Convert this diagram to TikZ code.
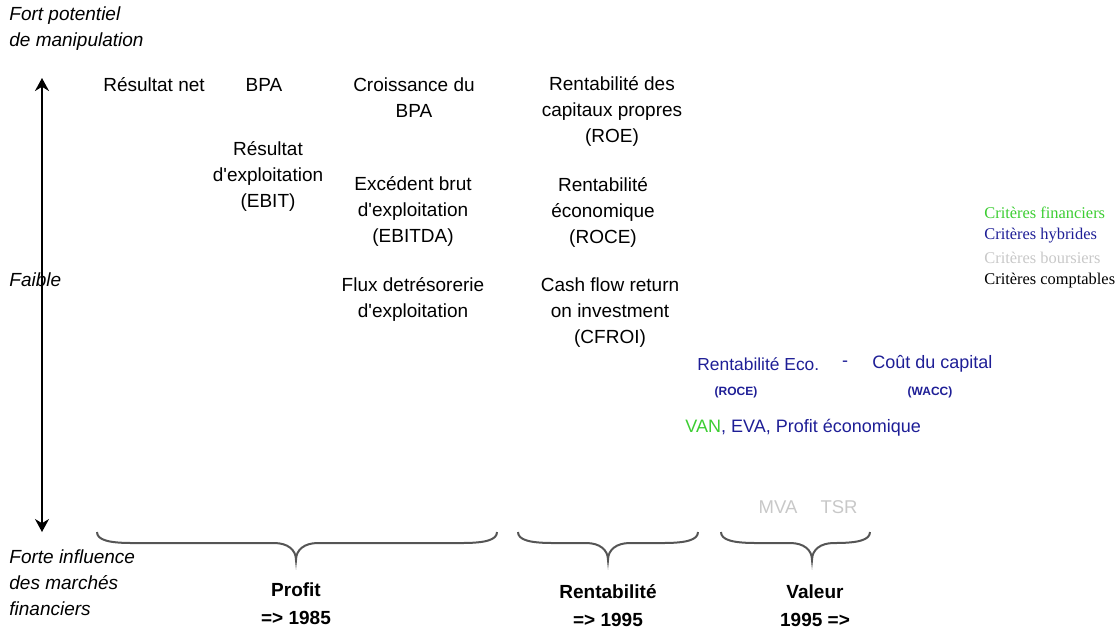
\documentclass[tikz,border=0pt]{standalone}
\usepackage{fontspec}
\setmainfont{Liberation Sans}
\newfontfamily\legendefont{Liberation Serif}
\usetikzlibrary{arrows.meta}

\definecolor{vert}{RGB}{60,205,50}
\definecolor{bleu}{RGB}{30,30,150}
\definecolor{gris}{RGB}{200,200,200}
\definecolor{trait}{RGB}{85,85,85}

% accolade: gauche, pointe, droite
\newcommand{\accolade}[3]{%
  \draw[trait, line width=1pt]
  (#1,532) .. controls (#1,540) and (#1+12,543) .. (#1+35,543)
  -- (#2-22,543) .. controls (#2-8,543) and (#2,550) .. (#2,560)
  .. controls (#2,550) and (#2+8,543) .. (#2+22,543)
  -- (#3-35,543) .. controls (#3-12,543) and (#3,540) .. (#3,532);}

\begin{document}
\begin{tikzpicture}[x=0.5pt, y=-0.5pt, >={Stealth[length=6.5pt,width=7pt]},
    font=\fontsize{9.5pt}{13pt}\selectfont,
    every node/.style={inner sep=0pt, align=center},
    axe/.style={anchor=west, align=left, font=\fontsize{9.5pt}{13pt}\selectfont\itshape},
    periode/.style={font=\fontsize{9.5pt}{14pt}\selectfont\bfseries},
    hybride/.style={text=bleu, font=\fontsize{9pt}{11pt}\selectfont},
    sigle/.style={text=bleu, font=\fontsize{6pt}{8pt}\selectfont\bfseries},
    boursier/.style={text=gris, font=\fontsize{9.25pt}{11pt}\selectfont},
    legende/.style={anchor=west, font=\fontsize{8.2pt}{10pt}\selectfont\legendefont}]
    \useasboundingbox (0,0) rectangle (1118,634);

    % Axe vertical
    \coordinate (haut) at (42,78);
    \coordinate (bas) at (42,532);
    \draw[line width=1pt,<->] (haut) -- (bas);
    \node[axe] (fort) at (9,29) {Fort potentiel\\de manipulation};
    \node[axe] (faible) at (9,280) {Faible};
    \node[axe] (influence) at (9,583) {Forte influence\\des marchés\\financiers};

    % Criteres comptables
    \node (rnet) at (154,85) {Résultat net};
    \node (bpa) at (264,85) {BPA};
    \node (cbpa) at (414,98) {Croissance du\\BPA};
    \node (roe) at (612,111) {Rentabilité des\\capitaux propres\\(ROE)};
    \node (ebit) at (268,176) {Résultat\\d\textquotesingle exploitation\\(EBIT)};
    \node (ebitda) at (413,211) {Excédent brut\\d\textquotesingle exploitation\\(EBITDA)};
    \node (roce) at (603,212) {Rentabilité\\économique\\(ROCE)};
    \node (flux) at (413,299) {Flux detrésorerie\\d\textquotesingle exploitation};
    \node (cfroi) at (610,313) {Cash flow return\\on investment\\(CFROI)};

    % Criteres hybrides
    \node[hybride, anchor=west, font=\fontsize{8.7pt}{11pt}\selectfont] (reco) at (697,364) {Rentabilité Eco.};
    \node[hybride] (moins) at (845,364) {-};
    \node[hybride, anchor=west] (cout) at (872,364) {Coût du capital};
    \node[sigle] (sroce) at (736,392) {(ROCE)};
    \node[sigle] (wacc) at (930,392) {(WACC)};
    \node[hybride, anchor=west] (eva) at (685,428) {\textcolor{vert}{VAN}, EVA, Profit économique};

    % Criteres boursiers
    \node[boursier] (mva) at (778,507) {MVA};
    \node[boursier] (tsr) at (839,507) {TSR};

    % Legende
    \node[legende, text=vert] (lfin) at (984,213) {Critères financiers};
    \node[legende, text=bleu] (lhyb) at (984,236) {Critères hybrides};
    \node[legende, text=gris] (lbou) at (984,258) {Critères boursiers};
    \node[legende] (lcpt) at (984,281) {Critères comptables};

    % Accolades et periodes
    \accolade{97}{296}{497}
    \accolade{518}{608}{698}
    \accolade{721}{812}{870}
    \node[periode] (profit) at (296,604) {Profit\\=> 1985};
    \node[periode] (rentab) at (608,606) {Rentabilité\\=> 1995};
    \node[periode] (valeur) at (815,606) {Valeur\\1995 =>};
\end{tikzpicture}
\end{document}
